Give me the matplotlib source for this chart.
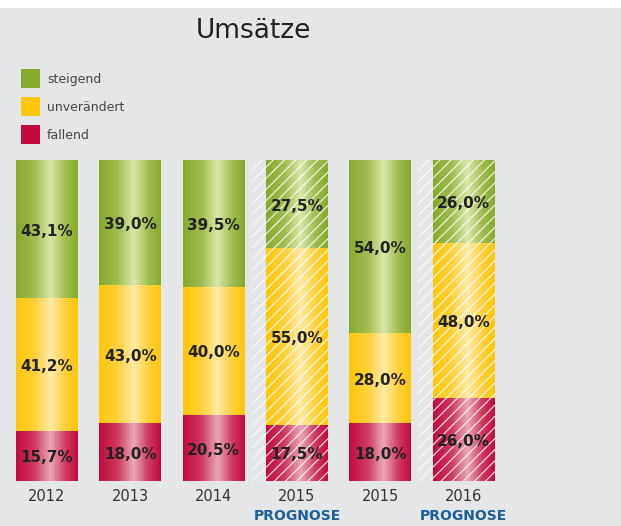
import matplotlib
matplotlib.use('Agg')
import matplotlib.pyplot as plt
import numpy as np
from matplotlib.colors import LinearSegmentedColormap, to_rgb
from matplotlib.patches import Rectangle

years = ['2012', '2013', '2014', '2015', '2015', '2016']
prognose = [False, False, False, True, False, True]
fallend = [15.7, 18.0, 20.5, 17.5, 18.0, 26.0]
unveraendert = [41.2, 43.0, 40.0, 55.0, 28.0, 48.0]
steigend = [43.1, 39.0, 39.5, 27.5, 54.0, 26.0]

series = [('fallend', fallend), ('unverändert', unveraendert), ('steigend', steigend)]
base_col = {'steigend': '#86aa2c', 'unverändert': '#ffc60a', 'fallend': '#c20a3e'}
light_col = {'steigend': '#dbe8a6', 'unverändert': '#ffeaa8', 'fallend': '#eaa8b4'}

W, H = 621, 526
fig = plt.figure(figsize=(W / 100, H / 100), dpi=100)
fig.patch.set_facecolor('#e5e6e8')
fig.patches.append(Rectangle((0, 1 - 8 / H), 1, 8 / H, transform=fig.transFigure,
                             facecolor='white', edgecolor='none', zorder=0))

# axes: y 0..100 maps to pixel 481..160, bar centers every ~83 px
ax = fig.add_axes([5.3 / W, (H - 481) / H, 499.9 / W, 321 / H])
ax.set_axis_off()
width = 0.744

def pct(v):
    return ('%.1f' % v).replace('.', ',') + '%'

def mix(a, b, t):
    a, b = np.array(to_rgb(a)), np.array(to_rgb(b))
    return tuple(a + (b - a) * t)

grad = np.linspace(0, 1, 300).reshape(1, -1)
names = [n for n, _ in series]
for name, vals in series:
    b, l = base_col[name], light_col[name]
    cmap = LinearSegmentedColormap.from_list(
        name, [(0, b), (0.3, mix(b, l, 0.3)), (0.56, l), (0.8, mix(b, l, 0.3)), (1, b)])
    for i, v in enumerate(vals):
        bottom = sum(s[1][i] for s in series[:names.index(name)])
        x0 = i - width / 2
        rect = Rectangle((x0, bottom), width, v, facecolor='none', edgecolor='none')
        ax.add_patch(rect)
        im = ax.imshow(grad, cmap=cmap, aspect='auto',
                       extent=(x0, x0 + width, bottom, bottom + v), zorder=1)
        im.set_clip_path(rect)
        ax.text(i, bottom + v / 2 - 0.6, pct(v), ha='center', va='center',
                fontsize=11, fontweight='bold', color='#222222', zorder=4)

# hatch overlay for forecast bars
plt.rcParams['hatch.linewidth'] = 0.8
for i, p in enumerate(prognose):
    if p:
        ax.add_patch(Rectangle((i - width / 2 - 0.17, -1.9), width + 0.17, 101.9,
                               facecolor='none', edgecolor='white', hatch='///',
                               linewidth=0, alpha=0.9, zorder=3))

for i, y in enumerate(years):
    ax.text(i, -2.6, y, ha='center', va='top', fontsize=10.5, color='#333333')
    if prognose[i]:
        ax.text(i, -8.8, 'PROGNOSE', ha='center', va='top', fontsize=10,
                fontweight='bold', color='#1c5e99')

ax.set_xlim(-0.5, 5.5)
ax.set_ylim(0, 100)

# title and legend
fig.text(253 / W, 1 - 38 / H, 'Umsätze', ha='center', va='baseline',
         fontsize=19, color='#222222')
for k, name in enumerate(['steigend', 'unverändert', 'fallend']):
    top = 69 + 28 * k
    fig.patches.append(Rectangle((21 / W, 1 - (top + 19) / H), 19 / W, 19 / H,
                                 transform=fig.transFigure,
                                 facecolor=base_col[name], edgecolor='none'))
    fig.text(47 / W, 1 - (top + 14) / H, name, ha='left', va='baseline',
             fontsize=9, color='#444444')

fig.savefig('out.png', dpi=100, facecolor=fig.get_facecolor())
